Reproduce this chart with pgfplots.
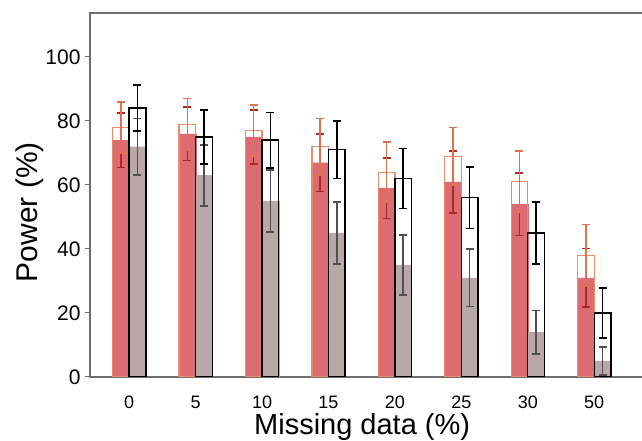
\documentclass[border=0pt]{standalone}
\usepackage{pgfplots}
\pgfplotsset{compat=1.18}
\usepackage{fontspec}
\setmainfont{Liberation Sans}
\definecolor{redfill}{RGB}{220,108,114}
\definecolor{redline}{RGB}{236,140,110}
\definecolor{rederrlight}{RGB}{225,112,80}
\definecolor{rederrdark}{RGB}{170,40,40}
\definecolor{greyfill}{RGB}{185,168,168}
\definecolor{greyerrdark}{RGB}{80,80,80}
\definecolor{axisgrey}{RGB}{110,110,110}

\pgfplotsset{
    errs/.style={draw=none, mark=none, forget plot,
        error bars/.cd, y dir=both, y explicit,
        error bar style={draw=#1, line width=1.5pt},
        error mark options={draw=#1, rotate=90, mark size=4pt, line width=1.5pt}},
}

\begin{document}
\begin{tikzpicture}
\useasboundingbox (0,0) rectangle (642pt,441pt);
\clip (0,0) rectangle (642pt,441pt);
\begin{axis}[
    at={(90pt,64pt)}, anchor=south west,
    scale only axis,
    width=560pt, height=364pt,
    xmin=-0.59, xmax=7.84,
    ymin=0, ymax=113.75,
    xtick={0,1,2,3,4,5,6,7},
    xticklabels={0,5,10,15,20,25,30,50},
    xtick style={draw=none},
    ytick={0,20,40,60,80,100},
    ytick pos=left,
    tick align=outside,
    major tick length=5pt,
    ytick style={axisgrey, line width=1pt},
    axis line style={axisgrey, line width=1.3pt},
    /pgf/number format/assume math mode=true,
    xticklabel style={font=\fontsize{18}{20}\selectfont, anchor=base, yshift=-26pt},
    yticklabel style={font=\fontsize{21}{23}\selectfont, xshift=-1pt},
    xlabel={Missing data (\%)},
    ylabel={Power (\%)},
    xlabel style={font=\fontsize{29}{32}\selectfont, at={(axis description cs:0.486,-0.1593)}, anchor=base},
    ylabel style={font=\fontsize{30}{33}\selectfont, at={(axis description cs:-0.0929,0.453)}, anchor=base},
]

% filled bars
\addplot[ybar, bar width=0.25, bar shift=0pt, fill=redfill, draw=redfill, line width=0.1pt]
coordinates {(-0.125,74) (0.875,76) (1.875,75) (2.875,67) (3.875,59) (4.875,61) (5.875,54) (6.875,31)};
\addplot[ybar, bar width=0.25, bar shift=0pt, fill=greyfill, draw=greyfill, line width=0.1pt]
coordinates {(0.125,72) (1.125,63) (2.125,55) (3.125,45) (4.125,35) (5.125,31) (6.125,14) (7.125,5)};

% outline bars
\addplot[ybar, bar width=0.25, bar shift=0pt, fill=none, draw=redline, line width=1.3pt]
coordinates {(-0.125,78) (0.875,79) (1.875,77) (2.875,72) (3.875,64) (4.875,69) (5.875,61) (6.875,38)};
\addplot[ybar, bar width=0.25, bar shift=0pt, fill=none, draw=black, line width=1.4pt]
coordinates {(0.125,84) (1.125,75) (2.125,74) (3.125,71) (4.125,62) (5.125,56) (6.125,45) (7.125,20)};

% error bars of the filled bars
\addplot[errs=rederrdark] coordinates {
    (-0.125,74) +- (0,8.5)
    (0.875,76) +- (0,8.3)
    (1.875,75) +- (0,8.5)
    (2.875,67) +- (0,9.0)
    (3.875,59) +- (0,9.5)
    (4.875,61) +- (0,9.7)
    (5.875,54) +- (0,9.8)
    (6.875,31) +- (0,9.1)
};
\addplot[errs=greyerrdark] coordinates {
    (0.125,72) +- (0,8.8)
    (1.125,63) +- (0,9.5)
    (2.125,55) +- (0,9.7)
    (3.125,45) +- (0,9.7)
    (4.125,35) +- (0,9.3)
    (5.125,31) +- (0,9.0)
    (6.125,14) +- (0,6.8)
    (7.125,5) +- (0,4.3)
};

% error bars of the outline bars
\addplot[errs=rederrlight] coordinates {
    (-0.125,78) +- (0,8.0)
    (0.875,79) +- (0,8.0)
    (1.875,77) +- (0,8.0)
    (2.875,72) +- (0,8.8)
    (3.875,64) +- (0,9.4)
    (4.875,69) +- (0,9.0)
    (5.875,61) +- (0,9.6)
    (6.875,38) +- (0,9.6)
};
\addplot[errs=black] coordinates {
    (0.125,84) +- (0,7.2)
    (1.125,75) +- (0,8.5)
    (2.125,74) +- (0,8.7)
    (3.125,71) +- (0,9.0)
    (4.125,62) +- (0,9.4)
    (5.125,56) +- (0,9.6)
    (6.125,45) +- (0,9.7)
    (7.125,20) +- (0,7.8)
};

\end{axis}
\end{tikzpicture}
\end{document}
